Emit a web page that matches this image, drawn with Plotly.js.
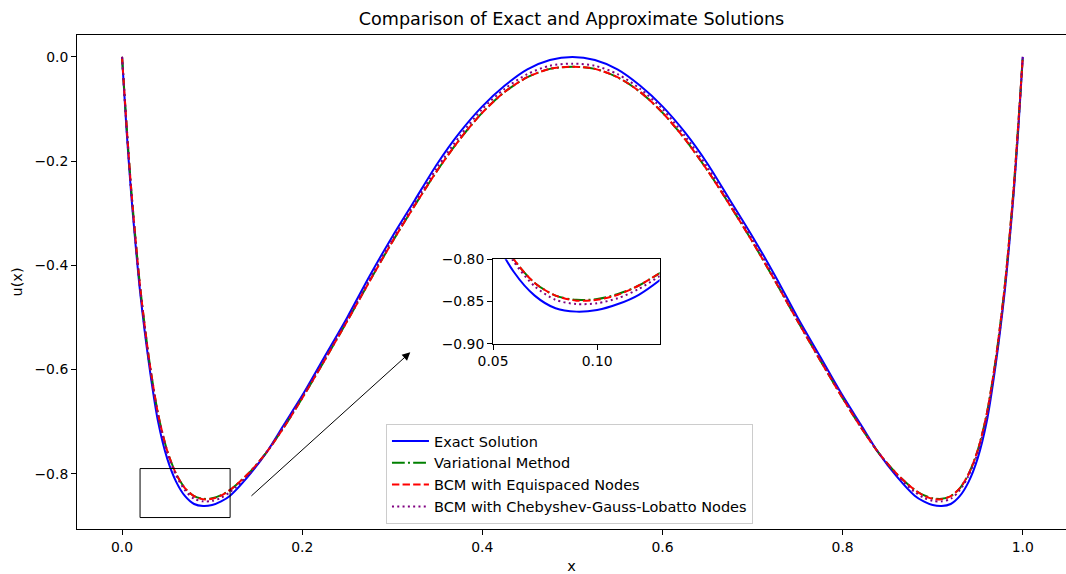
<!DOCTYPE html>
<html>
<head>
<meta charset="utf-8">
<script src="https://cdn.plot.ly/plotly-3.0.1.min.js"></script>
<style>html,body{margin:0;padding:0;background:#fff;}#chart{width:1066px;height:574px;}</style>
</head>
<body>
<div id="chart"></div>
<script>
const xs = [0, 0.005, 0.01, 0.015, 0.02, 0.03, 0.04, 0.05, 0.06, 0.07, 0.08, 0.09, 0.10, 0.11, 0.12, 0.14, 0.16, 0.18, 0.20, 0.225, 0.25, 0.275, 0.30, 0.325, 0.35, 0.375, 0.40, 0.425, 0.45, 0.475, 0.5,
  0.525, 0.55, 0.575, 0.60, 0.625, 0.65, 0.675, 0.70, 0.725, 0.75, 0.775, 0.80, 0.82, 0.84, 0.86, 0.88, 0.89, 0.90, 0.91, 0.92, 0.93, 0.94, 0.95, 0.96, 0.97, 0.98, 0.985, 0.99, 0.995, 1.0];

const exactSolution = [0, -0.14, -0.26, -0.36, -0.45, -0.59, -0.70, -0.77, -0.815, -0.843, -0.858, -0.862, -0.860, -0.853, -0.842, -0.805, -0.76, -0.705, -0.65, -0.575, -0.50, -0.42, -0.345, -0.275, -0.205, -0.145, -0.095, -0.055, -0.024, -0.006, 0,
  -0.006, -0.024, -0.055, -0.095, -0.145, -0.205, -0.275, -0.345, -0.42, -0.50, -0.575, -0.65, -0.705, -0.76, -0.805, -0.842, -0.853, -0.860, -0.862, -0.858, -0.843, -0.815, -0.77, -0.70, -0.59, -0.45, -0.36, -0.26, -0.14, 0];

const variationalMethod = [0, -0.13, -0.25, -0.35, -0.44, -0.58, -0.685, -0.755, -0.80, -0.828, -0.843, -0.848, -0.847, -0.841, -0.831, -0.800, -0.76, -0.71, -0.655, -0.582, -0.507, -0.43, -0.355, -0.285, -0.218, -0.158, -0.107, -0.067, -0.039, -0.023, -0.019,
  -0.023, -0.039, -0.067, -0.107, -0.158, -0.218, -0.285, -0.355, -0.43, -0.507, -0.582, -0.655, -0.71, -0.76, -0.800, -0.831, -0.841, -0.847, -0.848, -0.843, -0.828, -0.80, -0.755, -0.685, -0.58, -0.44, -0.35, -0.25, -0.13, 0];

const bcmEquispaced = [0, -0.13, -0.25, -0.35, -0.44, -0.58, -0.685, -0.755, -0.80, -0.828, -0.843, -0.849, -0.848, -0.842, -0.831, -0.800, -0.76, -0.71, -0.655, -0.582, -0.507, -0.43, -0.355, -0.285, -0.218, -0.158, -0.107, -0.067, -0.039, -0.023, -0.019,
  -0.023, -0.039, -0.067, -0.107, -0.158, -0.218, -0.285, -0.355, -0.43, -0.507, -0.582, -0.655, -0.71, -0.76, -0.800, -0.831, -0.842, -0.848, -0.849, -0.843, -0.828, -0.80, -0.755, -0.685, -0.58, -0.44, -0.35, -0.25, -0.13, 0];

const bcmChebyshev = [0, -0.135, -0.255, -0.355, -0.445, -0.585, -0.69, -0.76, -0.803, -0.832, -0.848, -0.853, -0.852, -0.846, -0.835, -0.803, -0.76, -0.708, -0.652, -0.579, -0.504, -0.426, -0.35, -0.28, -0.212, -0.152, -0.10, -0.061, -0.033, -0.017, -0.013,
  -0.017, -0.033, -0.061, -0.10, -0.152, -0.212, -0.28, -0.35, -0.426, -0.504, -0.579, -0.652, -0.708, -0.76, -0.803, -0.835, -0.846, -0.852, -0.853, -0.848, -0.832, -0.803, -0.76, -0.69, -0.585, -0.445, -0.355, -0.255, -0.135, 0];

const seriesNames = ['Exact Solution', 'Variational Method', 'BCM with Equispaced Nodes', 'BCM with Chebyshev-Gauss-Lobatto Nodes'];
const seriesData = [exactSolution, variationalMethod, bcmEquispaced, bcmChebyshev];
const seriesColors = ['#0000ff', '#008000', '#ff0000', '#800080'];
const seriesDash = ['solid', '12.8px,3.2px,2px,3.2px', '7.4px,3.2px', '2px,3.3px'];

const mainXTicks = [0, 0.2, 0.4, 0.6, 0.8, 1.0];
const mainYTicks = [0, -0.2, -0.4, -0.6, -0.8];
const insetXTicks = [0.05, 0.10];
const insetYTicks = [-0.80, -0.85, -0.90];

const FONT = 'DejaVu Sans, sans-serif';
const traces = [];
seriesData.forEach((ys, i) => {
  traces.push({x: xs, y: ys, type: 'scatter', mode: 'lines', name: seriesNames[i],
    line: {color: seriesColors[i], width: 2, dash: seriesDash[i], shape: 'spline', smoothing: 0.8},
    xaxis: 'x', yaxis: 'y', hoverinfo: 'skip'});
});
seriesData.forEach((ys, i) => {
  traces.push({x: xs, y: ys, type: 'scatter', mode: 'lines', name: seriesNames[i], showlegend: false,
    line: {color: seriesColors[i], width: 2, dash: seriesDash[i], shape: 'spline', smoothing: 0.8},
    xaxis: 'x2', yaxis: 'y2', hoverinfo: 'skip'});
});

const axBase = {showgrid: false, zeroline: false, showline: true, linecolor: '#000', linewidth: 1,
  ticks: 'outside', ticklen: 5, tickwidth: 1, tickcolor: '#000',
  tickfont: {family: FONT, size: 13.9, color: '#000'}};

const layout = {
  width: 1066, height: 574,
  paper_bgcolor: '#fff', plot_bgcolor: 'rgba(0,0,0,0)',
  margin: {l: 77, r: 0, t: 35, b: 45},
  font: {family: FONT, color: '#000'},
  title: {text: 'Comparison of Exact and Approximate Solutions', font: {family: FONT, size: 17.6, color: '#000'},
    x: 0.5, xref: 'paper', xanchor: 'center', y: 1 - 19/574, yref: 'container', yanchor: 'middle'},
  xaxis: Object.assign({}, axBase, {range: [-0.05, 1.048], tickvals: mainXTicks, tickformat: '.1f', mirror: true,
    domain: [0, 1], anchor: 'y',
    title: {text: 'x', font: {family: FONT, size: 14.5, color: '#000'}, standoff: 7}}),
  yaxis: Object.assign({}, axBase, {range: [-0.906, 0.042], tickvals: mainYTicks, tickformat: '.1f',
    domain: [0, 1], anchor: 'x',
    title: {text: 'u(x)', font: {family: FONT, size: 14.5, color: '#000'}, standoff: 8}}),
  xaxis2: Object.assign({}, axBase, {range: [0.05, 0.13], tickvals: insetXTicks, tickformat: '.2f', mirror: true,
    domain: [0.4207, 0.5891], anchor: 'y2'}),
  yaxis2: Object.assign({}, axBase, {range: [-0.90, -0.80], tickvals: insetYTicks, tickformat: '.2f', mirror: true,
    domain: [0.3752, 0.5458], anchor: 'x2'}),
  showlegend: true,
  legend: {x: 0.3124, y: 0.2126, xanchor: 'left', yanchor: 'top', xref: 'paper', yref: 'paper',
    bgcolor: 'rgba(255,255,255,0.8)', bordercolor: '#cccccc', borderwidth: 1, itemwidth: 37,
    font: {family: FONT, size: 14.5, color: '#000'}, tracegroupgap: 0},
  shapes: [
    {type: 'rect', xref: 'x', yref: 'y', x0: 0.02, x1: 0.12, y0: -0.884, y1: -0.79,
      line: {color: '#000', width: 1}, fillcolor: 'rgba(0,0,0,0)'}
  ],
  annotations: [
    {xref: 'x', yref: 'y', axref: 'x', ayref: 'y', x: 0.32, y: -0.567, ax: 0.142, ay: -0.845,
      showarrow: true, arrowhead: 2, arrowsize: 1.6, arrowwidth: 1, arrowcolor: '#000', text: ''}
  ]
};

Plotly.newPlot('chart', traces, layout, {displayModeBar: false, staticPlot: true});
</script>
</body>
</html>
